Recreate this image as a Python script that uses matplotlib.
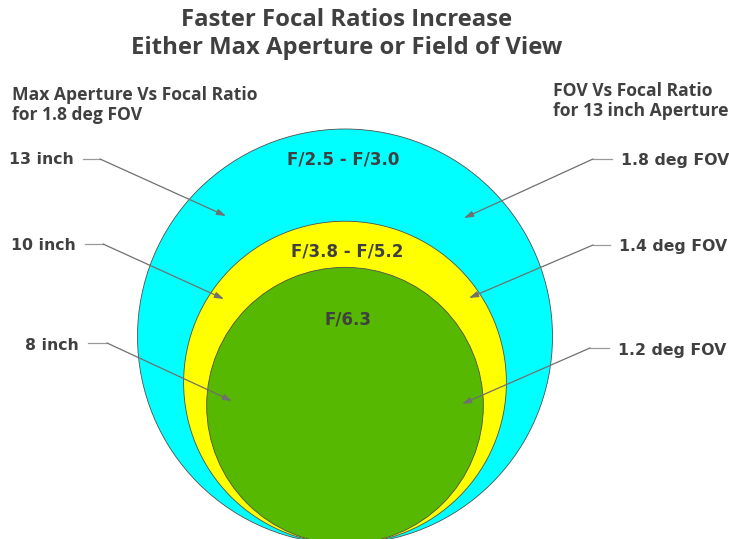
#! /usr/bin/env python3

'''
Nested circles: faster focal ratios increase max aperture or field of view
'''

import matplotlib
matplotlib.use('Agg')
import matplotlib.pyplot as plt
from matplotlib.patches import Circle


title = 'Faster Focal Ratios Increase\nEither Max Aperture or Field of View'
left_subtitle = 'Max Aperture Vs Focal Ratio\nfor 1.8 deg FOV'
right_subtitle = 'FOV Vs Focal Ratio\nfor 13 inch Aperture'

fov_deg = [1.8, 1.4, 1.2]
aperture_labels = ['13 inch', '10 inch', '8 inch']
fov_labels = ['1.8 deg FOV', '1.4 deg FOV', '1.2 deg FOV']
focal_ratio_labels = ['F/2.5 - F/3.0', 'F/3.8 - F/5.2', 'F/6.3']
circle_colors = ['#00ffff', '#ffff00', '#56b800']

text_color = '#404040'
px_per_deg = 207.5 / 1.8      # drawing scale for radius
centre_x = 345
base_y = 544                  # all circles touch here

# label layout (pixel coords, y down)
left_text = [(74, 160), (76, 246), (79, 346)]
left_elbow = [(83, 100, 159), (85, 103, 244), (88, 107, 343)]
left_tip = [(226, 216), (224, 299), (232, 401)]
right_text = [(621, 160), (619, 246), (618, 350)]
right_elbow = [(612, 593, 159), (610, 593, 245), (609, 590, 348)]
right_tip = [(464, 218), (469, 298), (462, 404)]
ratio_pos = [(343, 160), (347, 251), (348, 320)]


def main():
    fig = plt.figure(figsize=(7.29, 5.39), dpi=100)
    ax = fig.add_axes([0, 0, 1, 1])
    ax.set_xlim(0, 729)
    ax.set_ylim(539, 0)
    ax.axis('off')

    for i, (fov, color) in enumerate(zip(fov_deg, circle_colors)):
        r = fov * px_per_deg
        ax.add_patch(Circle((centre_x, base_y - r), r, facecolor=color,
                            edgecolor='#505050', linewidth=0.6, zorder=1 + i))

    for label, (x, y) in zip(focal_ratio_labels, ratio_pos):
        ax.text(x, y, label, ha='center', va='center', fontsize=12,
                fontweight='bold', family='DejaVu Sans', color=text_color,
                zorder=10)

    arrow = dict(arrowstyle='-|>,head_length=0.55,head_width=0.18',
                 color='#707070', lw=0.9, shrinkA=0, shrinkB=0)

    def leader(x0, x1, y, tip):
        ax.plot([x0, x1], [y, y], color='#9a9a9a', lw=0.9, zorder=20)
        ax.annotate('', xy=tip, xytext=(x1, y), arrowprops=arrow, zorder=20)

    for label, (tx, ty), (x0, x1, y), tip in zip(aperture_labels, left_text,
                                                left_elbow, left_tip):
        ax.text(tx, ty, label, ha='right', va='center', fontsize=11.3,
                fontweight='bold', family='DejaVu Sans', color=text_color)
        leader(x0, x1, y, tip)

    for label, (tx, ty), (x0, x1, y), tip in zip(fov_labels, right_text,
                                                right_elbow, right_tip):
        ax.text(tx, ty, label, ha='left', va='center', fontsize=11.3,
                fontweight='bold', family='DejaVu Sans', color=text_color)
        leader(x0, x1, y, tip)

    ax.text(347, 34, title, ha='center', va='center', fontsize=17.2,
            fontweight='bold', family='Open Sans', color=text_color,
            linespacing=1.17)
    ax.text(12, 105, left_subtitle, ha='left', va='center', fontsize=12.6,
            fontweight='bold', family='Open Sans', color=text_color,
            linespacing=1.1)
    ax.text(553, 101, right_subtitle, ha='left', va='center', fontsize=12.6,
            fontweight='bold', family='Open Sans', color=text_color,
            linespacing=1.1)

    fig.savefig('out.png', dpi=100, facecolor='white')


if __name__ == '__main__':
    main()
